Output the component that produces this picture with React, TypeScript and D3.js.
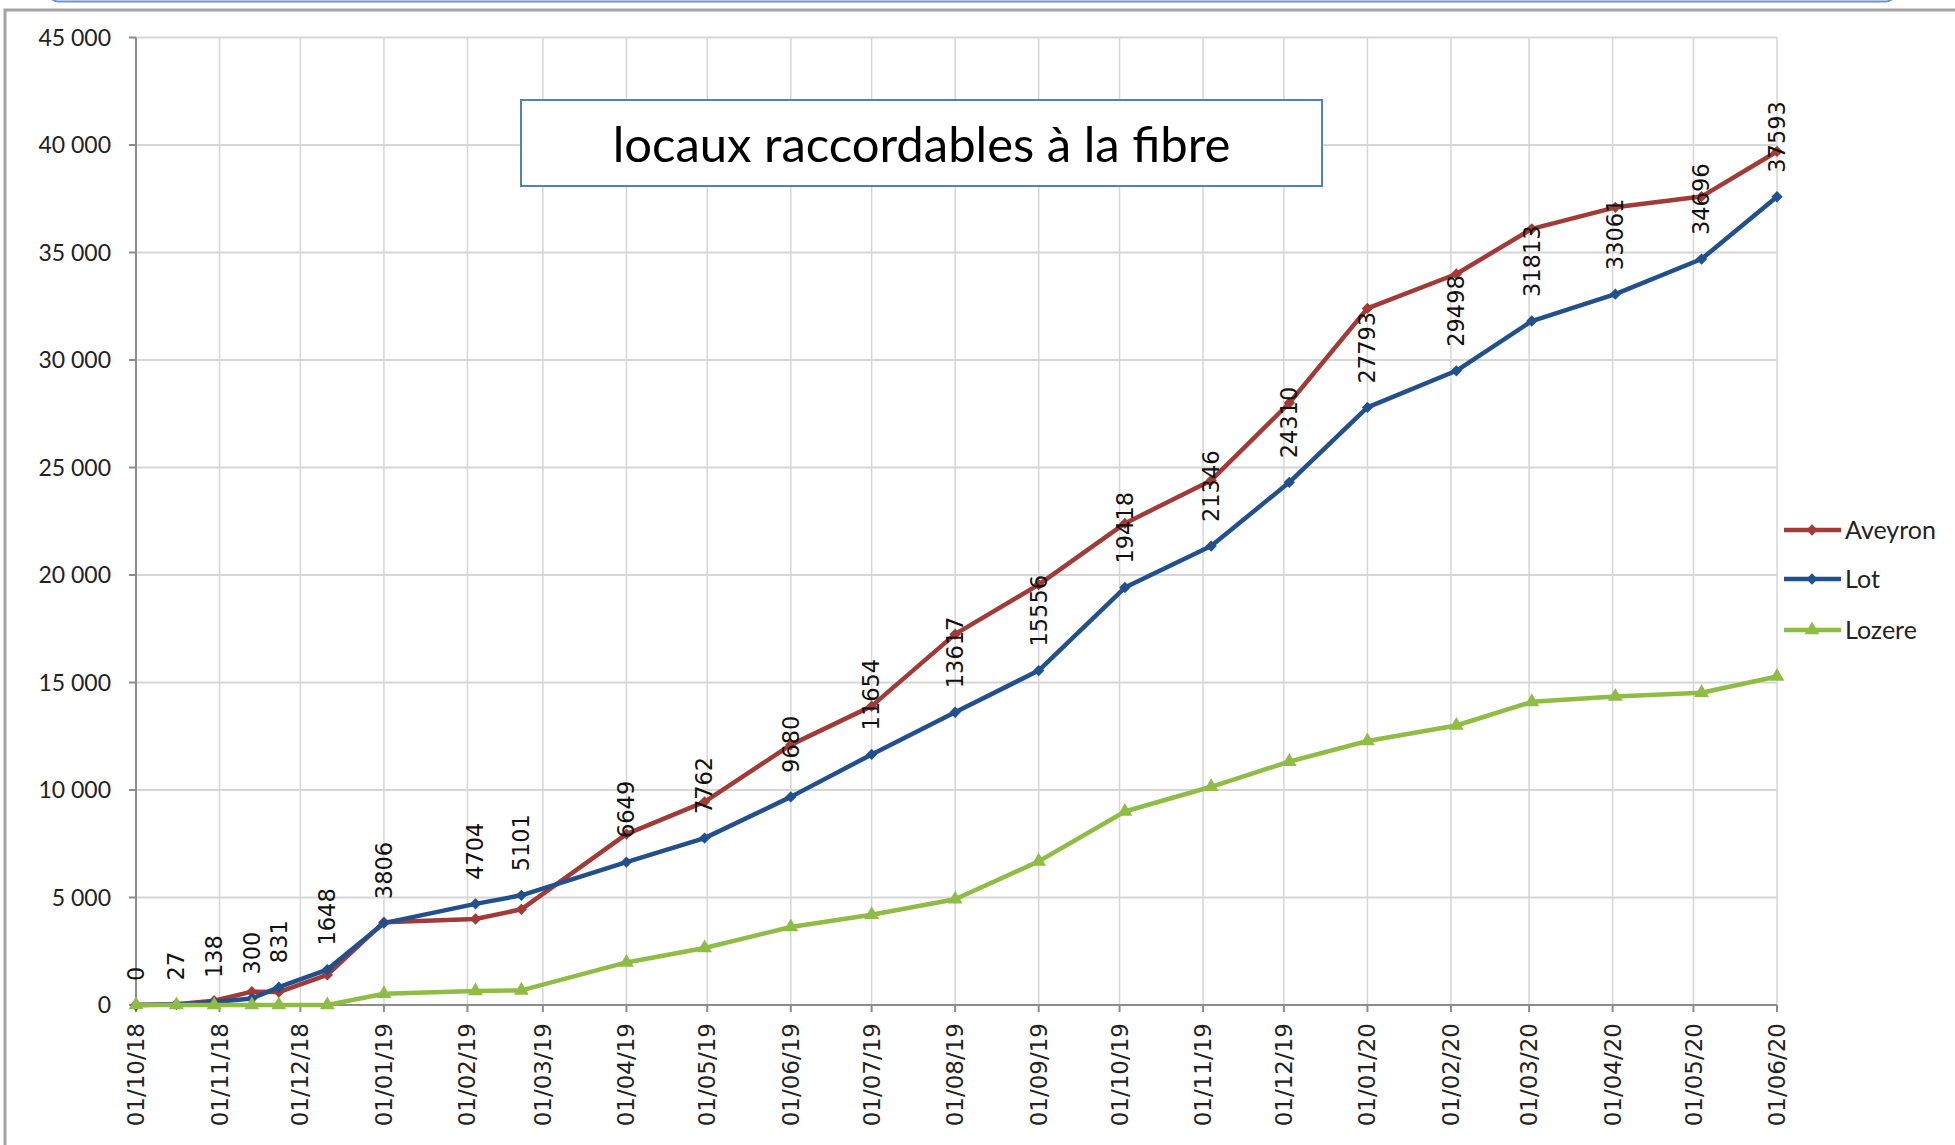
import React, { useEffect, useRef } from "react";
import * as d3 from "d3";

// point dates (irregular survey dates) and the three series
const dates: string[] = [
  "2018-10-01", "2018-10-16", "2018-10-30", "2018-11-13", "2018-11-23", "2018-12-11",
  "2019-01-01", "2019-02-04", "2019-02-21", "2019-04-01", "2019-04-30", "2019-06-01",
  "2019-07-01", "2019-08-01", "2019-09-01", "2019-10-03", "2019-11-04", "2019-12-03",
  "2020-01-01", "2020-02-03", "2020-03-02", "2020-04-02", "2020-05-04", "2020-06-01",
];

const aveyron: number[] = [
  0, 40, 200, 620, 600, 1400, 3850, 4000, 4450, 7950, 9450, 12100,
  13900, 17250, 19550, 22400, 24400, 28000, 32400, 34000, 36100, 37100, 37600, 39700,
];

const lot: number[] = [
  0, 27, 138, 300, 831, 1648, 3806, 4704, 5101, 6649, 7762, 9680,
  11654, 13617, 15556, 19418, 21346, 24310, 27793, 29498, 31813, 33061, 34696, 37593,
];

const lozere: number[] = [
  0, 0, 0, 0, 0, 0, 520, 650, 680, 1980, 2650, 3630,
  4200, 4920, 6680, 9000, 10150, 11320, 12280, 13000, 14100, 14350, 14520, 15280,
];

const seriesNames = ["Aveyron", "Lot", "Lozere"];
const colors = ["#a23a37", "#22508d", "#8fbc45"];
const title = "locaux raccordables à la fibre";

const App: React.FC = () => {
  const svgRef = useRef<SVGSVGElement | null>(null);

  useEffect(() => {
    if (!svgRef.current) return;
    const width = 1955;
    const height = 1145;
    const plot = { left: 136, right: 1777, top: 37.5, bottom: 1005 };

    const svg = d3.select(svgRef.current);
    svg.selectAll("*").remove();
    svg.attr("width", width).attr("height", height);

    const parse = d3.timeParse("%Y-%m-%d");
    const xDates = dates.map((d) => parse(d)!);

    const x = d3
      .scaleTime()
      .domain([xDates[0], xDates[xDates.length - 1]])
      .range([plot.left, plot.right]);

    const y = d3.scaleLinear().domain([0, 45000]).range([plot.bottom, plot.top]);

    // frame decorations
    svg.append("rect")
      .attr("x", 47).attr("y", -30).attr("width", 1850).attr("height", 31.5)
      .attr("rx", 12).attr("fill", "none").attr("stroke", "#6d95c6").attr("stroke-width", 2);
    svg.append("path")
      .attr("d", `M5,${height} L5,10 L${width},10`)
      .attr("fill", "none").attr("stroke", "#a3a3a3").attr("stroke-width", 3);

    // gridlines
    const yTicks = d3.range(0, 45001, 5000);
    const months = d3.timeMonth.range(xDates[0], d3.timeDay.offset(xDates[xDates.length - 1], 1));

    svg.append("g")
      .selectAll("line")
      .data(yTicks.filter((t) => t > 0))
      .enter()
      .append("line")
      .attr("x1", plot.left).attr("x2", plot.right)
      .attr("y1", (d) => y(d)).attr("y2", (d) => y(d))
      .attr("stroke", "#d6d6d6").attr("stroke-width", 2);

    svg.append("g")
      .selectAll("line")
      .data(months.slice(1))
      .enter()
      .append("line")
      .attr("x1", (d) => x(d)).attr("x2", (d) => x(d))
      .attr("y1", plot.top).attr("y2", plot.bottom)
      .attr("stroke", "#d6d6d6").attr("stroke-width", 1.5);

    // y axis
    const fmt = (v: number) => d3.format(",")(v).replace(/,/g, " ");
    const yAxis = svg.append("g");
    yAxis.append("line")
      .attr("x1", plot.left).attr("x2", plot.left)
      .attr("y1", plot.top).attr("y2", plot.bottom)
      .attr("stroke", "#8c8c8c").attr("stroke-width", 2);
    yAxis.selectAll(".tick")
      .data(yTicks)
      .enter()
      .append("line")
      .attr("x1", plot.left - 7).attr("x2", plot.left)
      .attr("y1", (d) => y(d)).attr("y2", (d) => y(d))
      .attr("stroke", "#8c8c8c").attr("stroke-width", 2);
    yAxis.selectAll("text")
      .data(yTicks)
      .enter()
      .append("text")
      .attr("x", 111)
      .attr("y", (d) => y(d))
      .attr("dy", "0.35em")
      .attr("text-anchor", "end")
      .attr("font-family", "Lato, sans-serif")
      .attr("font-size", 23)
      .attr("fill", "#222")
      .text((d) => fmt(d));

    // x axis
    const xAxis = svg.append("g");
    xAxis.append("line")
      .attr("x1", plot.left).attr("x2", plot.right)
      .attr("y1", plot.bottom).attr("y2", plot.bottom)
      .attr("stroke", "#8c8c8c").attr("stroke-width", 2);
    xAxis.selectAll(".tick")
      .data(months)
      .enter()
      .append("line")
      .attr("x1", (d) => x(d)).attr("x2", (d) => x(d))
      .attr("y1", plot.bottom).attr("y2", plot.bottom + 7)
      .attr("stroke", "#8c8c8c").attr("stroke-width", 2);
    const fmtDate = d3.timeFormat("%d/%m/%y");
    xAxis.selectAll("text")
      .data(months)
      .enter()
      .append("text")
      .attr("transform", (d) => `translate(${x(d)},${plot.bottom + 18}) rotate(-90)`)
      .attr("dy", "0.35em")
      .attr("text-anchor", "end")
      .attr("font-family", "'DejaVu Sans', sans-serif")
      .attr("font-size", 23)
      .attr("fill", "#222")
      .text((d) => fmtDate(d));

    // lines + markers
    const allSeries = [aveyron, lot, lozere];
    const line = d3.line<number>()
      .x((_, i) => x(xDates[i]))
      .y((d) => y(d));
    const diamond = d3.symbol(d3.symbolSquare, 64)();
    const triangle = d3.symbol(d3.symbolTriangle, 95)();

    allSeries.forEach((vals, s) => {
      svg.append("path")
        .datum(vals)
        .attr("d", line)
        .attr("fill", "none")
        .attr("stroke", colors[s])
        .attr("stroke-width", 4.5)
        .attr("stroke-linejoin", "round");
      svg.append("g")
        .selectAll("path")
        .data(vals)
        .enter()
        .append("path")
        .attr("d", s === 2 ? triangle : diamond)
        .attr("transform", (d, i) =>
          `translate(${x(xDates[i])},${y(d)})` + (s === 2 ? "" : " rotate(45)"))
        .attr("fill", colors[s]);
    });

    // data labels for Lot
    svg.append("g")
      .selectAll("text")
      .data(lot)
      .enter()
      .append("text")
      .attr("transform", (d, i) => `translate(${x(xDates[i])},${y(d) - 24}) rotate(-90)`)
      .attr("dy", "0.35em")
      .attr("text-anchor", "start")
      .attr("font-family", "'DejaVu Sans', sans-serif")
      .attr("font-size", 22.5)
      .attr("fill", "#111")
      .text((d) => String(d));

    // title box
    svg.append("rect")
      .attr("x", 521).attr("y", 100).attr("width", 801).attr("height", 86)
      .attr("fill", "#fff").attr("stroke", "#4f81bd").attr("stroke-width", 2);
    svg.append("text")
      .attr("x", 921.5).attr("y", 162)
      .attr("text-anchor", "middle")
      .attr("font-family", "Lato, sans-serif")
      .attr("font-size", 49)
      .attr("fill", "#000")
      .text(title);

    // legend
    const legendY = [530, 579, 630];
    const legend = svg.append("g");
    seriesNames.forEach((name, s) => {
      legend.append("line")
        .attr("x1", 1784).attr("x2", 1841)
        .attr("y1", legendY[s]).attr("y2", legendY[s])
        .attr("stroke", colors[s]).attr("stroke-width", 4.5);
      legend.append("path")
        .attr("d", s === 2 ? triangle : diamond)
        .attr("transform", `translate(1812,${legendY[s]})` + (s === 2 ? "" : " rotate(45)"))
        .attr("fill", colors[s]);
      legend.append("text")
        .attr("x", 1845).attr("y", legendY[s])
        .attr("dy", "0.35em")
        .attr("font-family", "Lato, sans-serif")
        .attr("font-size", 25)
        .attr("fill", "#222")
        .text(name);
    });
  }, []);

  return (
    <svg
      ref={svgRef}
      style={{ position: "absolute", left: 0, top: 0, display: "block", background: "#fff" }}
    ></svg>
  );
};

export default App;
